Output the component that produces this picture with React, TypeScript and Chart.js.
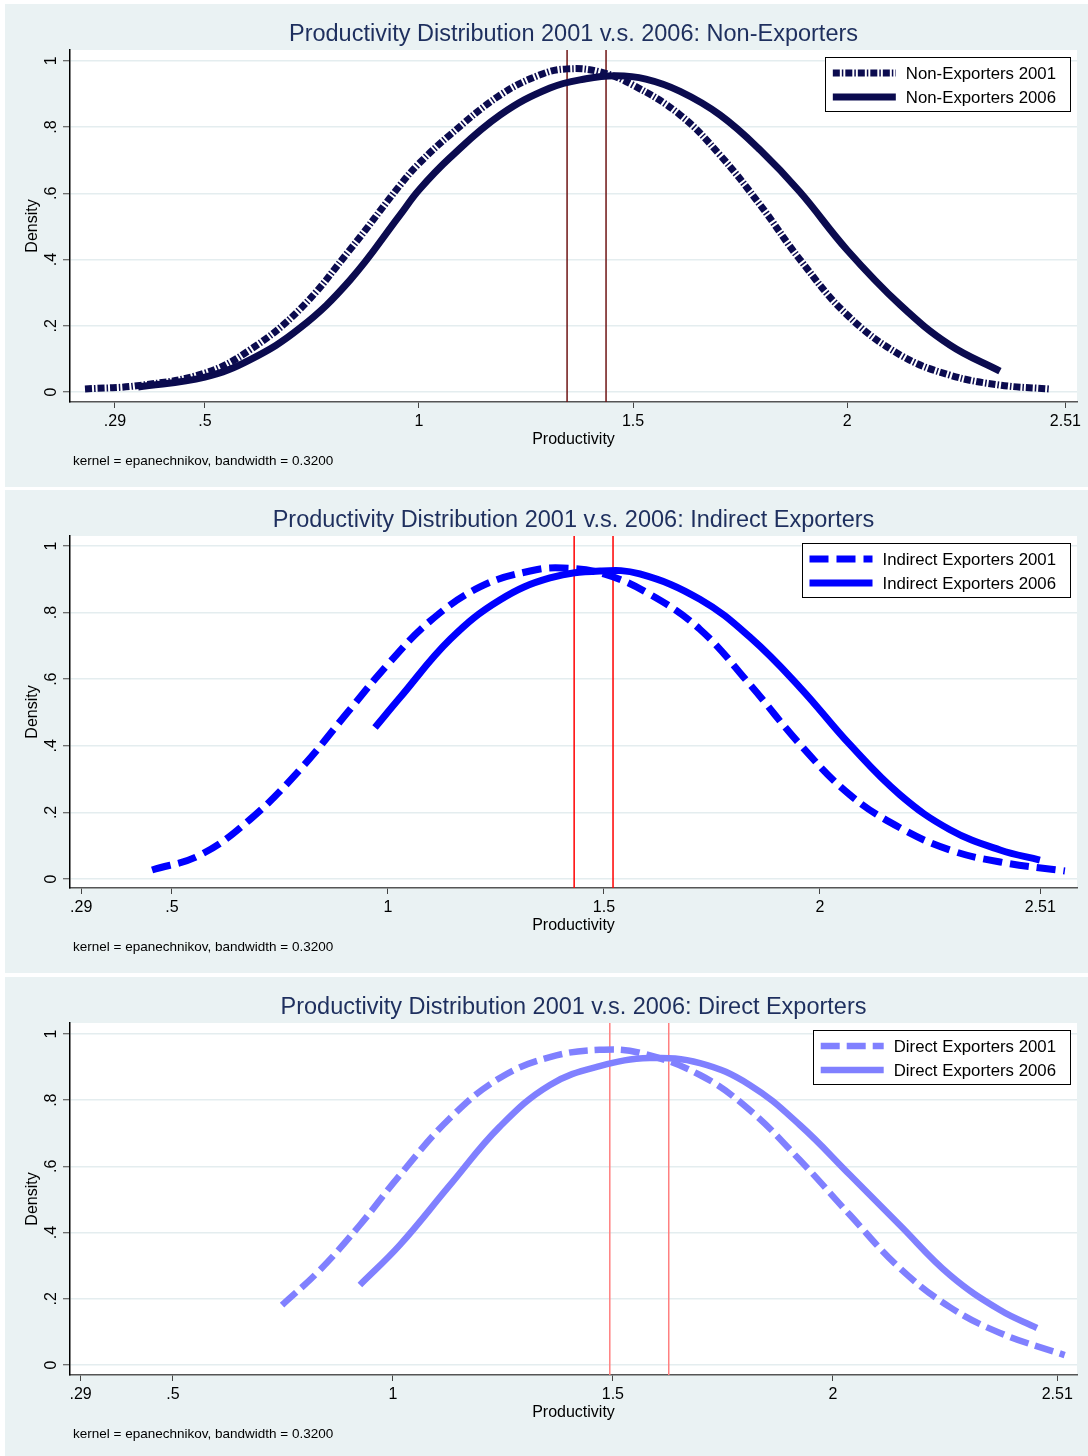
import React, { useEffect, useRef } from 'react';
import { Chart, registerables } from 'chart.js';
Chart.register(...registerables);

const FONT = 'Helvetica, "Liberation Sans", Arial, sans-serif';

// Axis ticks
const xTickValues = [0.29, 0.5, 1, 1.5, 2, 2.51];
const xTickLabels = ['.29', '.5', '1', '1.5', '2', '2.51'];
const yTickValues = [0, 0.2, 0.4, 0.6, 0.8, 1];
const yTickLabels = ['0', '.2', '.4', '.6', '.8', '1'];

// Panel 1: Non-Exporters
const nonExp2001X = [0.22, 0.348, 0.5, 0.605, 0.722, 0.839, 0.956, 1.0, 1.072, 1.19, 1.283, 1.346, 1.423, 1.5, 1.61, 1.703, 1.797, 1.89, 2.0, 2.124, 2.24, 2.357, 2.474];
const nonExp2001Y = [0.009, 0.02, 0.057, 0.127, 0.25, 0.43, 0.625, 0.69, 0.776, 0.897, 0.958, 0.976, 0.967, 0.927, 0.837, 0.716, 0.565, 0.4, 0.233, 0.112, 0.051, 0.021, 0.009];
const nonExp2006X = [0.344, 0.5, 0.605, 0.722, 0.839, 0.956, 1.0, 1.072, 1.19, 1.306, 1.39, 1.46, 1.53, 1.61, 1.703, 1.797, 1.89, 2.0, 2.124, 2.24, 2.357];
const nonExp2006Y = [0.015, 0.045, 0.097, 0.193, 0.338, 0.535, 0.61, 0.707, 0.837, 0.918, 0.946, 0.955, 0.945, 0.908, 0.837, 0.731, 0.604, 0.429, 0.263, 0.142, 0.063];
const nonExpMeans = [1.346, 1.437];

// Panel 2: Indirect Exporters
const indExp2001X = [0.454, 0.565, 0.68, 0.796, 0.912, 1.0, 1.097, 1.213, 1.329, 1.405, 1.5, 1.606, 1.722, 1.838, 1.954, 2.069, 2.185, 2.301, 2.417, 2.567];
const indExp2001Y = [0.027, 0.072, 0.178, 0.328, 0.509, 0.645, 0.774, 0.877, 0.925, 0.934, 0.916, 0.855, 0.75, 0.584, 0.404, 0.253, 0.154, 0.087, 0.051, 0.024];
const indExp2006X = [0.97, 1.028, 1.144, 1.259, 1.375, 1.491, 1.583, 1.722, 1.838, 1.954, 2.069, 2.185, 2.301, 2.417, 2.509];
const indExp2006Y = [0.455, 0.545, 0.72, 0.838, 0.904, 0.925, 0.916, 0.84, 0.726, 0.575, 0.404, 0.253, 0.148, 0.087, 0.057];
const indExpMeans = [1.431, 1.521];

// Panel 3: Direct Exporters
const dirExp2001X = [0.748, 0.834, 0.925, 1.016, 1.13, 1.243, 1.357, 1.47, 1.561, 1.698, 1.811, 1.925, 2.039, 2.152, 2.266, 2.38, 2.527];
const dirExp2001Y = [0.181, 0.287, 0.423, 0.574, 0.746, 0.867, 0.93, 0.952, 0.943, 0.876, 0.77, 0.619, 0.453, 0.293, 0.175, 0.097, 0.03];
const dirExp2006X = [0.925, 1.016, 1.13, 1.243, 1.357, 1.47, 1.584, 1.698, 1.811, 1.925, 2.039, 2.152, 2.266, 2.38, 2.464];
const dirExp2006Y = [0.242, 0.363, 0.544, 0.72, 0.846, 0.903, 0.927, 0.912, 0.846, 0.725, 0.574, 0.423, 0.272, 0.166, 0.112];
const dirExpMeans = [1.493, 1.627];

const noteText = 'kernel = epanechnikov, bandwidth = 0.3200';
const xTitleText = 'Productivity';
const yTitleText = 'Density';

type PanelCfg = {
  title: string;
  top: number;
  height: number;
  xMin: number;
  xMax: number;
  yMin: number;
  yMax: number;
  labels: [string, string];
  xs: [number[], number[]];
  ys: [number[], number[]];
  colors: [string, string];
  dash2001: number[];
  width: number;
  means: number[];
  meanColor: string;
};

const panels: PanelCfg[] = [
  {
    title: 'Productivity Distribution 2001 v.s. 2006: Non-Exporters',
    top: 4, height: 483, xMin: 0.185, xMax: 2.537, yMin: -0.0302, yMax: 1.033,
    labels: ['Non-Exporters 2001', 'Non-Exporters 2006'],
    xs: [nonExp2001X, nonExp2006X], ys: [nonExp2001Y, nonExp2006Y],
    colors: ['#0b0b4f', '#0b0b4f'], dash2001: [7, 2, 1.5, 2], width: 7,
    means: nonExpMeans, meanColor: '#6e1414',
  },
  {
    title: 'Productivity Distribution 2001 v.s. 2006: Indirect Exporters',
    top: 490, height: 483, xMin: 0.264, xMax: 2.595, yMin: -0.027, yMax: 1.030,
    labels: ['Indirect Exporters 2001', 'Indirect Exporters 2006'],
    xs: [indExp2001X, indExp2006X], ys: [indExp2001Y, indExp2006Y],
    colors: ['#0000ff', '#0000ff'], dash2001: [19, 8], width: 7,
    means: indExpMeans, meanColor: '#ff0000',
  },
  {
    title: 'Productivity Distribution 2001 v.s. 2006: Direct Exporters',
    top: 977, height: 479, xMin: 0.266, xMax: 2.555, yMin: -0.030, yMax: 1.033,
    labels: ['Direct Exporters 2001', 'Direct Exporters 2006'],
    xs: [dirExp2001X, dirExp2006X], ys: [dirExp2001Y, dirExp2006Y],
    colors: ['#8080ff', '#8080ff'], dash2001: [19, 7], width: 6.5,
    means: dirExpMeans, meanColor: '#ff8080',
  },
];

function Panel({ cfg }: { cfg: PanelCfg }) {
  const ref = useRef<HTMLCanvasElement | null>(null);
  useEffect(() => {
    if (!ref.current) return;
    const xAxisHeight = cfg.height - 398;
    const curveSets = [0, 1].map((i) => ({
      label: cfg.labels[i],
      data: cfg.xs[i].map((x, j) => ({ x, y: cfg.ys[i][j] })),
      borderColor: cfg.colors[i],
      backgroundColor: cfg.colors[i],
      borderWidth: cfg.width,
      borderDash: i === 0 ? cfg.dash2001 : [],
      borderCapStyle: 'butt' as const,
      borderJoinStyle: 'round' as const,
      pointRadius: 0,
      fill: false,
      tension: 0.4,
      order: 1,
    }));
    const meanSets = cfg.means.map((m) => ({
      label: '',
      data: [{ x: m, y: cfg.yMin }, { x: m, y: cfg.yMax }],
      borderColor: cfg.meanColor,
      borderWidth: 1.5,
      pointRadius: 0,
      fill: false,
      order: 5,
      isMean: true,
    }));

    const extras = {
      id: 'extras',
      beforeDraw(chart: any) {
        const { ctx, chartArea: a } = chart;
        ctx.save();
        ctx.fillStyle = '#ffffff';
        ctx.fillRect(a.left, a.top, a.right - a.left, a.bottom - a.top);
        ctx.restore();
      },
      afterDraw(chart: any) {
        const { ctx, chartArea: a } = chart;
        const cx = (a.left + a.right) / 2;
        ctx.save();
        // title
        ctx.fillStyle = '#1e2f5e';
        ctx.font = `23.5px ${FONT}`;
        ctx.textAlign = 'center';
        ctx.textBaseline = 'middle';
        ctx.fillText(cfg.title, cx, 31);
        // x title
        ctx.fillStyle = '#000';
        ctx.font = `16px ${FONT}`;
        ctx.fillText(xTitleText, cx, 436);
        // y title
        ctx.save();
        ctx.translate(28, (a.top + a.bottom) / 2);
        ctx.rotate(-Math.PI / 2);
        ctx.fillText(yTitleText, 0, 0);
        ctx.restore();
        // note
        ctx.font = `13.5px ${FONT}`;
        ctx.textAlign = 'left';
        ctx.fillText(noteText, 68, 457);
        // legend
        ctx.font = `16.8px ${FONT}`;
        const sets = chart.data.datasets.filter((d: any) => !d.isMean);
        const tw = Math.max(...sets.map((d: any) => ctx.measureText(d.label).width));
        const bw = 81 + tw + 14;
        const bh = 54;
        const br = a.right - 7;
        const bl = br - bw;
        const bt = a.top + 7;
        ctx.fillStyle = '#fff';
        ctx.fillRect(bl, bt, bw, bh);
        ctx.strokeStyle = '#000';
        ctx.lineWidth = 1;
        ctx.strokeRect(Math.round(bl) + 0.5, bt + 0.5, Math.round(bw), bh);
        sets.forEach((d: any, i: number) => {
          const ry = bt + 16 + i * 24;
          ctx.save();
          ctx.strokeStyle = d.borderColor;
          ctx.lineWidth = d.borderWidth;
          ctx.lineCap = 'butt';
          ctx.setLineDash(d.borderDash || []);
          ctx.beginPath();
          ctx.moveTo(bl + 8, ry);
          ctx.lineTo(bl + 71, ry);
          ctx.stroke();
          ctx.restore();
          ctx.fillStyle = '#000';
          ctx.textBaseline = 'middle';
          ctx.fillText(d.label, bl + 81, ry + 1);
        });
        ctx.restore();
      },
    };

    const chart = new Chart(ref.current, {
      type: 'line',
      data: { datasets: [...curveSets, ...meanSets] as any },
      options: {
        animation: false,
        responsive: false,
        devicePixelRatio: 1,
        parsing: false as any,
        layout: { padding: { top: 46, right: 11, left: 0, bottom: 0 } },
        plugins: { legend: { display: false }, title: { display: false }, tooltip: { enabled: false } },
        scales: {
          x: {
            type: 'linear',
            min: cfg.xMin,
            max: cfg.xMax,
            afterBuildTicks: (s: any) => { s.ticks = xTickValues.map((v) => ({ value: v })); },
            afterFit: (s: any) => { s.height = xAxisHeight; },
            ticks: {
              autoSkip: false,
              maxRotation: 0,
              minRotation: 0,
              padding: 4,
              color: '#000',
              font: { family: FONT, size: 16 },
              callback: (_v: any, i: number) => xTickLabels[i],
            },
            grid: { drawOnChartArea: false, drawTicks: true, tickLength: 6, tickColor: '#444', tickWidth: 1 },
            border: { color: '#555', width: 1.5 },
          },
          y: {
            type: 'linear',
            min: cfg.yMin,
            max: cfg.yMax,
            afterBuildTicks: (s: any) => { s.ticks = yTickValues.map((v) => ({ value: v })); },
            afterFit: (s: any) => { s.width = 65; },
            ticks: {
              autoSkip: false,
              minRotation: 90,
              maxRotation: 90,
              crossAlign: 'center',
              padding: 5,
              color: '#000',
              font: { family: FONT, size: 16 },
              callback: (_v: any, i: number) => yTickLabels[i],
            },
            grid: { color: '#e4edef', lineWidth: 1.5, drawTicks: true, tickLength: 7, tickColor: '#444', tickWidth: 1 },
            border: { color: '#000', width: 1.5 },
          },
        },
      },
      plugins: [extras],
    });
    return () => chart.destroy();
  }, [cfg]);
  return (
    <div style={{ position: 'absolute', left: 5, top: cfg.top, width: 1083, height: cfg.height, background: '#eaf2f3' }}>
      <canvas ref={ref} width={1083} height={cfg.height} style={{ display: 'block' }} />
    </div>
  );
}

export default function App() {
  return (
    <div style={{ position: 'absolute', left: 0, top: 0, width: 1088, height: 1456, background: '#fff', overflow: 'hidden' }}>
      {panels.map((p, i) => <Panel key={i} cfg={p} />)}
    </div>
  );
}
